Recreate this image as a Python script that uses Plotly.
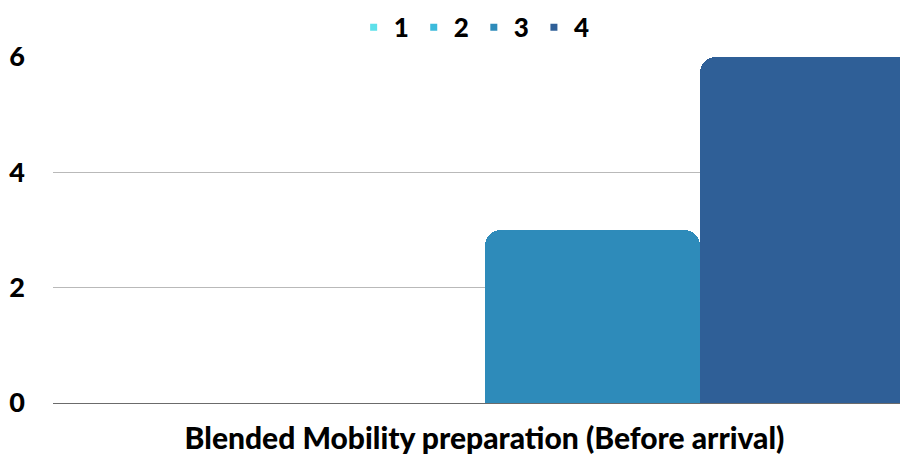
import plotly.graph_objects as go

category = ["Blended Mobility preparation (Before arrival)"]
series_names = ["1", "2", "3", "4"]
series_values = [[0], [0], [3], [6]]
colors = ["#5ee0ea", "#3cbadb", "#2e8bba", "#2f5f97"]

fig = go.Figure()

for name, vals, color in zip(series_names, series_values, colors):
    fig.add_trace(go.Bar(
        x=category, y=vals, name=name,
        marker=dict(color=color, line=dict(width=0)),
        showlegend=False
    ))
    # small square legend entry
    fig.add_trace(go.Scatter(
        x=[None], y=[None], mode="markers", name=name,
        marker=dict(symbol="square", size=7, color=color),
        showlegend=True
    ))

fig.update_layout(
    width=908, height=459,
    margin=dict(l=45, r=0, t=49, b=64, autoexpand=False),
    paper_bgcolor="white", plot_bgcolor="white",
    font=dict(family="Lato", size=28, color="black", weight=900),
    barmode="group", bargap=0, bargroupgap=0, barcornerradius=16,
    legend=dict(orientation="h", x=0.488, xanchor="center", y=1.018, yanchor="bottom",
                font=dict(size=26, weight=900), itemwidth=30, tracegroupgap=0),
    xaxis=dict(showgrid=False, showline=False, ticks="", automargin=False,
               ticklabelstandoff=15,
               tickfont=dict(size=30, weight=900)),
    yaxis=dict(range=[0, 6], tickvals=[0, 2, 4, 6], showgrid=True,
               gridcolor="#b9b9b9", gridwidth=1.3,
               zeroline=True, zerolinecolor="#6b6b6b", zerolinewidth=1.3,
               ticks="", ticklabelstandoff=27, automargin=False,
               tickfont=dict(size=27, weight=900)),
)

fig.write_html("out.html")
